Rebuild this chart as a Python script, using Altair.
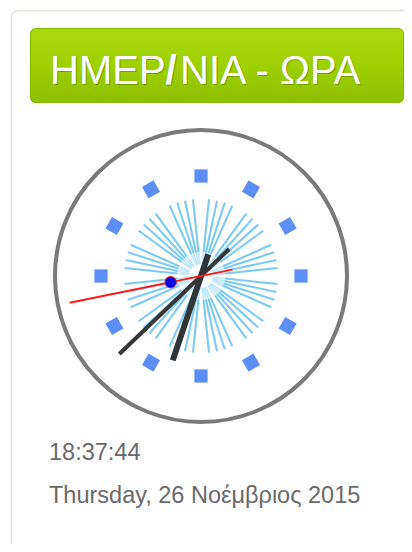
import altair as alt
import numpy as np
import pandas as pd

# ---- data ----
title_parts = ["ΗΜΕΡ", "/", "ΝΙΑ - ΩΡΑ"]
title_weights = ["normal", "bold", "normal"]
time_label = "18:37:44"
date_label = "Thursday, 26 Νοέμβριος 2015"

hour_marks = list(range(12))                          # 12 square hour markers
minute_rays = [m for m in range(60) if m % 5 != 0]    # 48 light-blue minute rays

hand_names = ["hour", "minute", "second"]
hand_angles = [198.5, 226.3, 258.5]   # degrees clockwise from 12 o'clock
hand_tips = [89, 113, 134]            # length towards the tip
hand_tails = [23, 39, 32]             # length of the tail behind the pivot
hand_colors = ["#2f3538", "#363636", "#ff1a1a"]
hand_widths = [6, 4, 2]
dot_offset = 31                       # blue dot on the second hand

# ---- layout (page pixels) ----
W, H = 396, 536
CX, CY = 201, 276
R_RING = 146
R_MARK = 100
R_RAY_IN, R_RAY_MID, R_RAY_OUT = 12, 24, 77

xs = alt.Scale(domain=[8, 8 + W], nice=False, zero=False)
ys = alt.Scale(domain=[8, 8 + H], nice=False, zero=False, reverse=True)


def X(f):
    return alt.X(f, type="quantitative", scale=xs, axis=None)


def Y(f):
    return alt.Y(f, type="quantitative", scale=ys, axis=None)


def polar(angle_deg, r):
    a = np.deg2rad(angle_deg)
    return CX + r * np.sin(a), CY - r * np.cos(a)


# panel & button
panel = pd.DataFrame({"x": [11.5], "x2": [440], "y": [10.5], "y2": [580]})
button = pd.DataFrame({"x": [30.5], "x2": [403.5], "y": [28.5], "y2": [102.5]})

panel_layer = alt.Chart(panel).mark_rect(
    fill="white", stroke="#e9e1dc", strokeWidth=1.5, cornerRadius=7
).encode(x=X("x"), x2="x2", y=Y("y"), y2="y2")

grad = alt.Gradient(
    gradient="linear",
    stops=[alt.GradientStop(color="#abd80c", offset=0),
           alt.GradientStop(color="#9fd000", offset=0.5),
           alt.GradientStop(color="#8cbf00", offset=1)],
    x1=0, x2=0, y1=0, y2=1,
)
button_layer = alt.Chart(button).mark_rect(
    fill=grad, stroke="#86b500", strokeWidth=1, cornerRadius=5
).encode(x=X("x"), x2="x2", y=Y("y"), y2="y2")

title_x = [50, 171, 180]
title_align = ["left", "center", "left"]
title_layers = []
for txt, w, tx, al in zip(title_parts, title_weights, title_x, title_align):
    d = pd.DataFrame({"t": [txt], "x": [tx], "y": [84]})
    shadow = alt.Chart(d).mark_text(
        font="Liberation Sans", fontSize=40, fontWeight=w, align=al,
        baseline="alphabetic", color="#4f6b00", opacity=0.45, dx=1, dy=1
    ).encode(x=X("x"), y=Y("y"), text="t:N")
    main = alt.Chart(d).mark_text(
        font="Liberation Sans", fontSize=40, fontWeight=w, align=al,
        baseline="alphabetic", color="white"
    ).encode(x=X("x"), y=Y("y"), text="t:N")
    title_layers += [shadow, main]

# ring
ring = pd.DataFrame({"x": [CX], "y": [CY]})
ring_layer = alt.Chart(ring).mark_point(
    shape="circle", filled=False, size=(2 * R_RING) ** 2,
    stroke="#7a7a7a", strokeWidth=4, opacity=1
).encode(x=X("x"), y=Y("y"))

# rays
ang = np.array(minute_rays) * 6.0
x1, y1 = polar(ang, R_RAY_MID)
x2, y2 = polar(ang, R_RAY_OUT)
xi, yi = polar(ang, R_RAY_IN)
rays = pd.DataFrame({"x": x1, "y": y1, "x2": x2, "y2": y2})
rays_in = pd.DataFrame({"x": xi, "y": yi, "x2": x1, "y2": y1})
ray_layer = alt.Chart(rays).mark_rule(color="#7ccbf4", strokeWidth=2.1).encode(
    x=X("x"), y=Y("y"), x2="x2", y2="y2")
ray_in_layer = alt.Chart(rays_in).mark_rule(color="#aadff9", strokeWidth=1.6, opacity=0.75).encode(
    x=X("x"), y=Y("y"), x2="x2", y2="y2")

# hour markers
ha = np.array(hour_marks) * 30.0
hx, hy = polar(ha, R_MARK)
marks = pd.DataFrame({"x": hx, "y": hy, "angle": ha})
mark_layer = alt.Chart(marks).mark_point(
    shape="square", filled=True, size=175, color="#5b8ef7", opacity=1
).encode(x=X("x"), y=Y("y"), angle=alt.Angle("angle:Q", scale=None))

# hands
hand_layers = []
for name, a, tip, tail, col, w in zip(hand_names, hand_angles, hand_tips, hand_tails,
                                      hand_colors, hand_widths):
    tx, ty = polar(a, tip)
    bx, by = polar(a + 180, tail)
    d = pd.DataFrame({"hand": [name], "x": [bx], "y": [by], "x2": [tx], "y2": [ty]})
    hand_layers.append(
        alt.Chart(d).mark_rule(color=col, strokeWidth=w).encode(
            x=X("x"), y=Y("y"), x2="x2", y2="y2")
    )

dx_, dy_ = polar(hand_angles[2], dot_offset)
dot = pd.DataFrame({"x": [dx_], "y": [dy_]})
dot_layer = alt.Chart(dot).mark_point(
    shape="circle", filled=True, size=130, fill="#0a00e0", stroke="#e02020",
    strokeWidth=1, opacity=1
).encode(x=X("x"), y=Y("y"))

# texts
texts = pd.DataFrame({"t": [time_label, date_label], "x": [49, 49], "y": [460, 503]})
text_layer = alt.Chart(texts).mark_text(
    font="Liberation Sans", fontSize=23.5, align="left", baseline="alphabetic",
    color="#6a6a6a"
).encode(x=X("x"), y=Y("y"), text="t:N")

chart = alt.layer(
    panel_layer, button_layer, *title_layers,
    ring_layer, ray_in_layer, ray_layer, mark_layer,
    *hand_layers, dot_layer, text_layer
).properties(
    width=W, height=H, padding=0, autosize=alt.AutoSizeParams(type="none"),
    background="white"
).configure_view(stroke=None)

chart.save("out.html", embed_options={"renderer": "svg", "actions": False})
